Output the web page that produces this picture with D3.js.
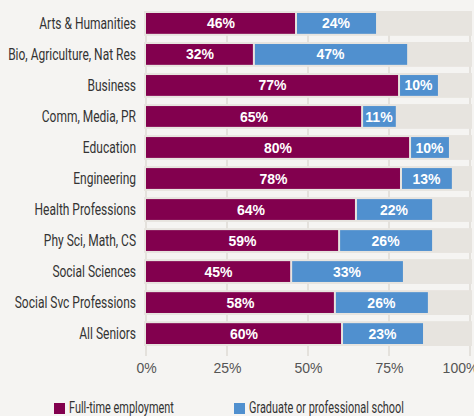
<!DOCTYPE html>
<meta charset="utf-8">
<style>
  body {
    margin: 0;
    background-color: #f5f4f2;
  }
  svg { display: block; }
  .cat, .legend text {
    font-family: Roboto, "Liberation Sans", sans-serif;
    font-size: 16px;
    fill: #333;
  }
  .val {
    font-family: "Liberation Sans", Arial, sans-serif;
    font-weight: bold;
    font-size: 14px;
    fill: #fff;
  }
  .axis text {
    font-family: "Liberation Sans", Arial, sans-serif;
    font-size: 14px;
    fill: #555;
  }
</style>
<body>
  <div id="chart"></div>
  <script src="https://d3js.org/d3.v7.min.js"></script>
  <script>

    var categories = ["Arts & Humanities", "Bio, Agriculture, Nat Res", "Business", "Comm, Media, PR",
      "Education", "Engineering", "Health Professions", "Phy Sci, Math, CS", "Social Sciences",
      "Social Svc Professions", "All Seniors"];
    // bar lengths as drawn in the picture
    var fullTime = [46.3, 33.3, 78.1, 66.7, 81.5, 78.7, 64.8, 59.6, 44.8, 58.3, 60.5];
    var gradSchool = [24.7, 47.3, 12.0, 10.4, 12.0, 15.7, 23.5, 28.7, 34.5, 28.7, 25.0];
    // the rounded numbers printed on the bars
    var fullTimeLabels = [46, 32, 77, 65, 80, 78, 64, 59, 45, 58, 60];
    var gradSchoolLabels = [24, 47, 10, 11, 10, 13, 22, 26, 33, 26, 23];
    var tickValues = [0, 25, 50, 75, 100];
    var seriesNames = ["Full-time employment", "Graduate or professional school"];
    var seriesColors = ["#82004e", "#5090cf"];

    var w = 474;
    var h = 416;

    var svg = d3.select("#chart").append("svg")
      .attr("width", w)
      .attr("height", h);

    var x = d3.scaleLinear().domain([0, 100]).range([146, 470]);
    var y = d3.scaleBand().domain(categories).range([11, 346]).paddingInner(0.2);

    // gridlines sit under the grey row tracks, so they only show in the gaps
    svg.append("g")
      .selectAll("line")
      .data(tickValues)
      .enter().append("line")
      .attr("x1", function (d) { return x(d); })
      .attr("x2", function (d) { return x(d); })
      .attr("y1", 11)
      .attr("y2", 356)
      .attr("stroke", "#e4e1dc")
      .attr("stroke-width", 2);

    svg.append("g")
      .selectAll("rect")
      .data(categories)
      .enter().append("rect")
      .attr("x", x(0) - 2)
      .attr("width", x(100) - x(0) + 4)
      .attr("y", function (d) { return y(d); })
      .attr("height", y.bandwidth())
      .attr("fill", "#e7e4df");

    var segs = [];
    categories.forEach(function (c, i) {
      segs.push({ cat: c, x0: 0, x1: fullTime[i], label: fullTimeLabels[i], s: 0 });
      segs.push({ cat: c, x0: fullTime[i], x1: fullTime[i] + gradSchool[i], label: gradSchoolLabels[i], s: 1 });
    });

    var barG = svg.append("g");
    barG.selectAll("rect")
      .data(segs)
      .enter().append("rect")
      .attr("x", function (d) { return x(d.x0) + (d.s ? 1 : 0); })
      .attr("width", function (d) { return x(d.x1) - x(d.x0) - 1; })
      .attr("y", function (d) { return y(d.cat) + 2; })
      .attr("height", y.bandwidth() - 4)
      .attr("fill", function (d) { return seriesColors[d.s]; });

    barG.selectAll("text")
      .data(segs)
      .enter().append("text")
      .attr("class", "val")
      .attr("text-anchor", "middle")
      .attr("x", function (d) { return (x(d.x0) + x(d.x1)) / 2; })
      .attr("y", function (d) { return y(d.cat) + y.bandwidth() / 2; })
      .attr("dy", "0.36em")
      .text(function (d) { return d.label + "%"; });

    // category labels, squeezed to look like a condensed face
    var labels = svg.append("g")
      .selectAll("g")
      .data(categories)
      .enter().append("g");
    labels.append("text")
      .attr("class", "cat")
      .attr("text-anchor", "end")
      .attr("dy", "0.35em")
      .text(function (d) { return d; });

    var widest = d3.max(labels.selectAll("text").nodes(), function (n) { return n.getComputedTextLength(); });
    var k = 128 / widest;
    labels.attr("transform", function (d) {
      return "translate(136," + (y(d) + y.bandwidth() / 2) + ") scale(" + k + ",1)";
    });

    var axis = svg.append("g")
      .attr("class", "axis")
      .attr("transform", "translate(0,356)")
      .call(d3.axisBottom(x).tickValues(tickValues).tickSize(0).tickPadding(7)
        .tickFormat(function (d) { return d + "%"; }));
    axis.select(".domain").remove();
    axis.selectAll(".tick text").attr("fill", "#555");
    axis.selectAll(".tick:last-of-type text").attr("dx", -10);

    var legendX = [54, 234];
    var legend = svg.append("g")
      .attr("class", "legend")
      .selectAll("g")
      .data(seriesNames)
      .enter().append("g")
      .attr("transform", function (d, i) { return "translate(" + legendX[i] + ",403)"; });
    legend.append("rect")
      .attr("width", 11)
      .attr("height", 11)
      .attr("fill", function (d, i) { return seriesColors[i]; });
    var legendText = legend.append("text")
      .text(function (d) { return d; });
    var kl = 105 / legendText.node().getComputedTextLength();
    legendText.attr("transform", "translate(15,10) scale(" + kl + ",1)");

  </script>
</body>
